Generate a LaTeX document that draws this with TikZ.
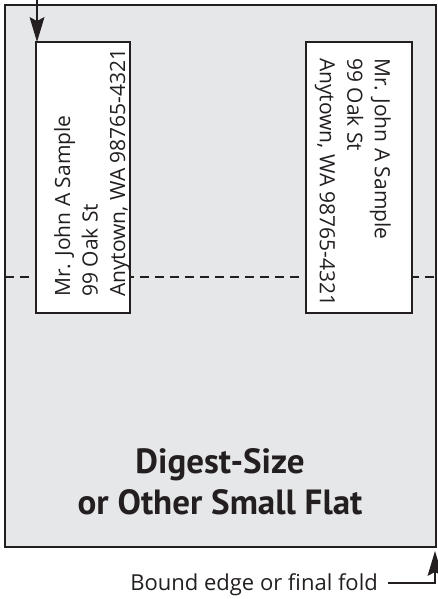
\documentclass[tikz,border=0pt]{standalone}
\usepackage{fontspec}
\setmainfont{Open Sans}
\newfontfamily\titlefont{PT Sans}
\definecolor{sheet}{HTML}{E6E7E8}
\definecolor{ink}{HTML}{231F20}
\begin{document}
\begin{tikzpicture}[x=1pt,y=-1pt,
  piece/.style={draw=ink, fill=sheet, line width=2pt, inner sep=0pt, outer sep=0pt},
  labelbox/.style={draw=ink, fill=white, line width=2.4pt, inner sep=0pt, outer sep=0pt},
  foldline/.style={draw=ink, line width=2.4pt, dash pattern=on 9pt off 6pt},
  pointer/.style={draw=ink, line width=2.4pt},
  pointerhead/.style={fill=ink, draw=none},
  address/.style={inner sep=0pt, align=left, font=\fontsize{21}{27.5}\selectfont, text=ink},
  caption/.style={inner sep=0pt, font=\fontsize{22}{26}\selectfont, text=ink},
  title/.style={inner sep=0pt, align=center, text=ink,
    font=\titlefont\bfseries\fontsize{35}{41}\selectfont}]
\useasboundingbox (0,0) rectangle (438,599);

% the flat piece
\node[piece, minimum width=431pt, minimum height=542pt] (piece) at (220.5,276) {};

% fold line across the piece
\coordinate (fold) at (0,277);
\draw[foldline] (piece.west |- fold) -- (piece.east |- fold);

% address labels
\node[labelbox, minimum width=94pt, minimum height=271pt] (leftlabel) at (83,177.5) {};
\node[labelbox, minimum width=106pt, minimum height=271pt] (rightlabel) at (359,177.5) {};

\node[address, rotate=90, anchor=north west] (lefttext) at (54,297)
  {Mr. John A Sample\\99 Oak St\\Anytown, WA 98765-4321};
\node[address, rotate=-90, anchor=north west] (righttext) at (391,58)
  {Mr. John A Sample\\99 Oak St\\Anytown, WA 98765-4321};

% title (anchored on the baseline of its last line)
\node[title, anchor=base] (name) at (220,514) {Digest-Size\\or Other Small Flat};

% pointer down onto the left label
\coordinate (topstart) at (37,0);
\coordinate (toptip) at (37,42);
\draw[pointer] (topstart) -- (0,26 -| toptip);
\fill[pointerhead] (toptip) -- ++(-7.5,-25) -- ++(7.5,4) -- ++(7.5,-4) -- cycle;

% pointer up onto the bound edge
\node[caption, anchor=base east] (foldcaption) at (378,590) {Bound edge or final fold};
\coordinate (bend) at (435,583);
\coordinate (edgetip) at (435,551);
\draw[pointer] (foldcaption.east |- bend) ++(10,0) -- (bend) -- (0,568 -| edgetip);
\fill[pointerhead] (edgetip) -- ++(-7.5,25) -- ++(7.5,-4) -- ++(7.5,4) -- cycle;
\end{tikzpicture}
\end{document}
